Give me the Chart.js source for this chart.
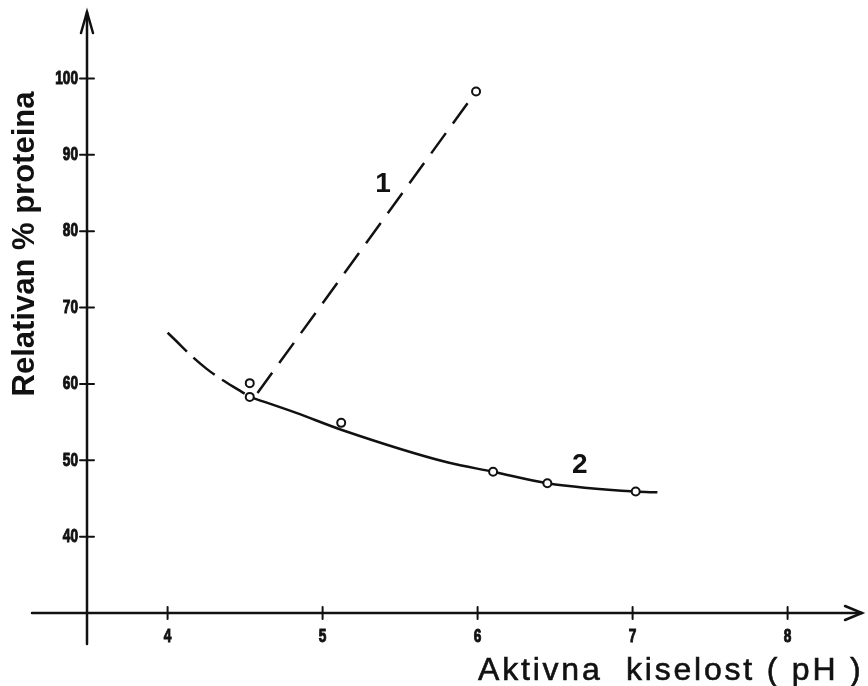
<!DOCTYPE html>
<html>
<head>
<meta charset="utf-8">
<script src="https://cdn.jsdelivr.net/npm/chart.js@4/dist/chart.umd.min.js"></script>
<style>
    html, body { margin: 0; padding: 0; background: #fff; }
    #wrap { width: 868px; height: 686px; }
</style>
</head>
<body>
<div id="wrap"><canvas id="lineCanvas" width="868" height="686"></canvas></div>
<script>
// values
var xTicks = [4, 5, 6, 7, 8];
var yTicks = [40, 50, 60, 70, 80, 90, 100];

// measured points (open circles)
var pointsPH = [5.99, 4.53, 4.53, 5.12, 6.10, 6.45, 7.02];
var pointsProtein = [98.3, 60.1, 58.3, 54.9, 48.5, 47.0, 45.9];

// curve 1 (dashed straight line)
var line1PH = [4.58, 5.99];
var line1Protein = [58.8, 98.3];

// curve 2 (solid part)
var curve2PH = [4.53, 4.83, 5.12, 5.81, 6.10, 6.45, 7.02, 7.16];
var curve2Protein = [58.3, 56.2, 54.0, 49.7, 48.5, 47.0, 45.9, 45.8];

// curve 2 (dashed extrapolation to the left)
var curve2ExtPH = [4.00, 4.25, 4.53];
var curve2ExtProtein = [66.7, 62.0, 58.3];

function toXY(xs, ys) {
    return xs.map(function (x, i) { return { x: x, y: ys[i] }; });
}

var ink = '#111';

// draws narrow heavy text by squeezing it horizontally
function narrowText(ctx, text, x, y, align) {
    ctx.save();
    ctx.translate(x, y);
    ctx.scale(0.72, 1);
    ctx.textAlign = align;
    ctx.lineWidth = 1;
    ctx.strokeStyle = ink;
    ctx.strokeText(text, 0, 0);
    ctx.fillText(text, 0, 0);
    ctx.restore();
}

// axes with arrows, crossing tick marks, curve numbers and axis titles
var sketchAxes = {
    id: 'sketchAxes',
    beforeDatasetsDraw: function (chart) {
        var ctx = chart.ctx;
        var xs = chart.scales.x, ys = chart.scales.y;
        var ox = xs.getPixelForValue(xs.min), oy = ys.getPixelForValue(ys.min);
        var right = xs.getPixelForValue(xs.max), top = ys.getPixelForValue(ys.max);
        ctx.save();
        ctx.strokeStyle = ink;
        ctx.lineWidth = 2.5;
        ctx.lineCap = 'round';
        ctx.beginPath();
        ctx.moveTo(32, oy); ctx.lineTo(right, oy);
        ctx.moveTo(ox, oy + 31); ctx.lineTo(ox, top);
        ctx.stroke();
        // arrow heads
        ctx.beginPath();
        ctx.moveTo(right - 17, oy - 7); ctx.lineTo(right, oy); ctx.lineTo(right - 17, oy + 7);
        ctx.moveTo(ox - 6, top + 21); ctx.lineTo(ox, top); ctx.lineTo(ox + 6, top + 21);
        ctx.stroke();
        // ticks
        ctx.lineWidth = 2;
        ctx.beginPath();
        xTicks.forEach(function (v) {
            var px = xs.getPixelForValue(v);
            ctx.moveTo(px, oy - 6); ctx.lineTo(px, oy + 6);
        });
        yTicks.forEach(function (v) {
            var py = ys.getPixelForValue(v);
            ctx.moveTo(ox - 7, py); ctx.lineTo(ox + 7, py);
        });
        ctx.stroke();

        // tick labels
        ctx.fillStyle = ink;
        ctx.font = 'bold 19px "Liberation Sans", Arial, sans-serif';
        ctx.textBaseline = 'middle';
        xTicks.forEach(function (v) {
            narrowText(ctx, String(v), xs.getPixelForValue(v), oy + 24, 'center');
        });
        yTicks.forEach(function (v) {
            narrowText(ctx, String(v), ox - 9, ys.getPixelForValue(v), 'right');
        });
        ctx.restore();
    },
    afterDatasetsDraw: function (chart) {
        var ctx = chart.ctx;
        var xs = chart.scales.x, ys = chart.scales.y;
        ctx.save();
        ctx.fillStyle = ink;
        ctx.textAlign = 'center';
        ctx.textBaseline = 'middle';
        ctx.font = 'bold 28px "Liberation Sans", Arial, sans-serif';
        ctx.fillText('1', xs.getPixelForValue(5.39), ys.getPixelForValue(86.1));
        ctx.fillText('2', xs.getPixelForValue(6.66), ys.getPixelForValue(49.4));

        // y title
        ctx.save();
        ctx.translate(25, 244);
        ctx.rotate(-Math.PI / 2);
        ctx.font = 'bold 31px "Liberation Sans", Arial, sans-serif';
        ctx.fillText('Relativan % proteina', 0, 0);
        ctx.restore();

        // x title
        ctx.textAlign = 'left';
        ctx.textBaseline = 'alphabetic';
        ctx.font = '32px "Liberation Sans", Arial, sans-serif';
        ctx.letterSpacing = '2.8px';
        ctx.lineWidth = 0.6;
        ctx.strokeStyle = ink;
        ctx.strokeText('Aktivna  kiselost ( pH )', 478, 680);
        ctx.fillText('Aktivna  kiselost ( pH )', 478, 680);
        ctx.restore();
    }
};

var lineChart = new Chart(document.getElementById('lineCanvas'), {
    type: 'scatter',
    data: {
        datasets: [
            {
                label: 'points',
                data: toXY(pointsPH, pointsProtein),
                showLine: false,
                pointRadius: 4,
                pointBorderWidth: 2,
                pointBorderColor: ink,
                pointBackgroundColor: '#fff',
                order: 0
            },
            {
                label: '1',
                data: toXY(line1PH, line1Protein),
                showLine: true,
                borderColor: ink,
                borderWidth: 2.5,
                borderDash: [25, 12],
                pointRadius: 0,
                order: 1
            },
            {
                label: '2',
                data: toXY(curve2PH, curve2Protein),
                showLine: true,
                borderColor: ink,
                borderWidth: 2.5,
                cubicInterpolationMode: 'monotone',
                pointRadius: 0,
                order: 2
            },
            {
                label: '2 ext',
                data: toXY(curve2ExtPH, curve2ExtProtein),
                showLine: true,
                borderColor: ink,
                borderWidth: 2.5,
                borderDash: [27, 9],
                tension: 0.4,
                pointRadius: 0,
                order: 3
            }
        ]
    },
    options: {
        responsive: false,
        animation: false,
        layout: { padding: { left: 0, right: 2, top: 12, bottom: 0 } },
        plugins: {
            legend: { display: false },
            tooltip: { enabled: false }
        },
        scales: {
            x: {
                type: 'linear',
                min: 3.48,
                max: 8.48,
                grid: { display: false },
                border: { display: false },
                afterFit: function (scale) { scale.height = 73; },
                ticks: { display: false }
            },
            y: {
                type: 'linear',
                min: 30,
                max: 108.7,
                grid: { display: false },
                border: { display: false },
                afterFit: function (scale) { scale.width = 87; },
                ticks: { display: false }
            }
        }
    },
    plugins: [sketchAxes]
});
</script>
</body>
</html>
